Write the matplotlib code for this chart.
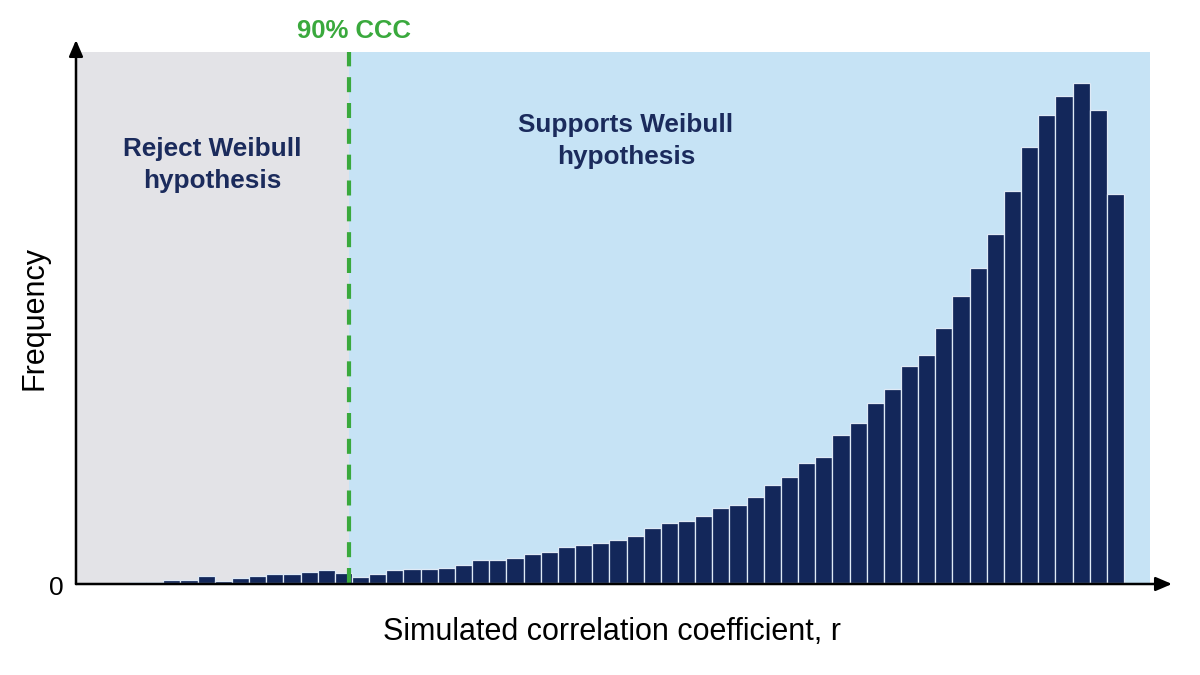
import matplotlib

matplotlib.use("Agg")
import matplotlib.pyplot as plt
from matplotlib.patches import FancyArrowPatch
import numpy as np

# histogram of simulated correlation coefficients (counts)
bin_start = 0.942
bin_width = 0.001
counts = [
    13, 13, 27, 30, 67, 20, 53, 70, 90, 90, 113, 130, 103,
    57, 90, 130, 140, 137, 153, 175, 225, 225, 250, 290, 310, 355, 382,
    397, 427, 467, 547, 603, 620, 667, 750, 783, 863, 977, 1057, 1197,
    1263, 1480, 1600, 1803, 1934, 2168, 2278, 2553, 2870, 3149, 3486,
    3913, 4357, 4680, 4866, 4997, 4732, 3889,
]
ccc_value = 0.9548
ccc_label = "90% CCC"
reject_label = "Reject Weibull\nhypothesis"
support_label = "Supports Weibull\nhypothesis"
x_label = "Simulated correlation coefficient, r"
y_label = "Frequency"

NAVY = "#13275a"
TEXT_NAVY = "#1b2b5c"
GREEN = "#3aa93d"
GREY_BG = "#e3e3e7"
BLUE_BG = "#c6e3f5"

plt.rcParams["font.family"] = ["Liberation Sans", "DejaVu Sans"]

W, H = 1200, 675
fig = plt.figure(figsize=(12, 6.75), dpi=100)


def fx(px):
    return px / W


def fy(py):
    return 1 - py / H


ax = fig.add_axes([fx(77), fy(583), fx(1150) - fx(77), fy(52) - fy(583)])

edges = bin_start + bin_width * np.arange(len(counts))
x_lo = bin_start - bin_width * 52 / 17.155
x_hi = edges[-1] + bin_width + bin_width * 26 / 17.155
y_top = max(counts) * 531 / 500

ax.axvspan(x_lo, ccc_value, color=GREY_BG, zorder=0, lw=0)
ax.axvspan(ccc_value, x_hi, color=BLUE_BG, zorder=0, lw=0)
ax.bar(edges, counts, width=bin_width, align="edge", color=NAVY,
       edgecolor="#dfeaf6", linewidth=0.9, zorder=2)
ax.axvline(ccc_value, color=GREEN, lw=3.0, dashes=(3.6, 2.6), zorder=3)

ax.set_xlim(x_lo, x_hi)
ax.set_ylim(0, y_top)
ax.set_xticks([])
ax.set_yticks([])
for spine in ax.spines.values():
    spine.set_visible(False)

# axes drawn as arrows
arrow = dict(arrowstyle="-|>,head_length=0.7,head_width=0.3", color="black", lw=1.8,
             shrinkA=0, shrinkB=0, mutation_scale=14, transform=fig.transFigure)
fig.add_artist(FancyArrowPatch((fx(76), fy(584)), (fx(1172), fy(584)), **arrow))
fig.add_artist(FancyArrowPatch((fx(76), fy(584)), (fx(76), fy(40)), **arrow))

fig.text(fx(56), fy(588), "0", fontsize=19, ha="center", va="center")
fig.text(fx(612), fy(632), x_label, fontsize=22, ha="center", va="center")
fig.text(fx(34), fy(318), y_label, fontsize=22, rotation=90, ha="center", va="center")
fig.text(fx(354), fy(31), ccc_label, fontsize=18.5, fontweight="bold", color=GREEN,
         ha="center", va="center")
fig.text(fx(212), fy(165), reject_label, fontsize=18.8, fontweight="bold", color=TEXT_NAVY,
         ha="center", va="center", linespacing=1.4)
fig.text(fx(626), fy(141), support_label, fontsize=18.8, fontweight="bold", color=TEXT_NAVY,
         ha="center", va="center", linespacing=1.4)

fig.savefig("out.png", dpi=100)
